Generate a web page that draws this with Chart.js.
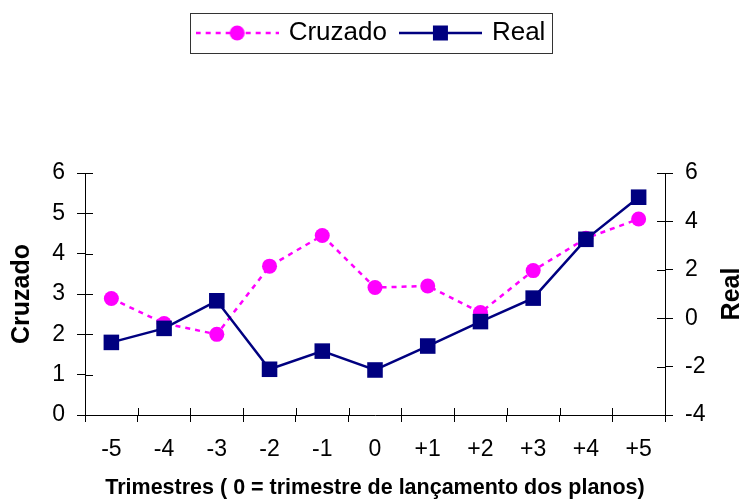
<!DOCTYPE html>
<html>
<head>
<meta charset="utf-8">
<script src="https://cdn.jsdelivr.net/npm/chart.js@4"></script>
<style>
  body { margin: 0; background: #fff; }
  #wrap { width: 744px; height: 501px; }
</style>
</head>
<body>
<div id="wrap"><canvas id="planosChart" width="744" height="501"></canvas></div>
<script>
// Trimestres (0 = trimestre de lançamento dos planos)
var trimestres = ['-5', '-4', '-3', '-2', '-1', '0', '+1', '+2', '+3', '+4', '+5'];

// Values
var cruzado = [2.89, 2.27, 2.0, 3.69, 4.45, 3.16, 3.2, 2.54, 3.58, 4.38, 4.86];
var real = [-1.0, -0.42, 0.72, -2.11, -1.36, -2.14, -1.15, -0.14, 0.83, 3.26, 5.0];

var MAGENTA = '#ff00ff';
var NAVY = '#000080';
var FONT = '"Liberation Sans", Arial, sans-serif';

// little legend icons: line with marker in the middle
function legendIcon(color, dashed, square) {
    var c = document.createElement('canvas');
    c.width = 83; c.height = 20;
    var g = c.getContext('2d');
    g.strokeStyle = color;
    g.lineWidth = 2.5;
    if (dashed) g.setLineDash([5, 5]);
    g.beginPath(); g.moveTo(0, 10); g.lineTo(83, 10); g.stroke();
    g.fillStyle = color;
    if (square) {
        g.fillRect(41.5 - 7.5, 2.5, 15, 15);
    } else {
        g.beginPath(); g.arc(41.5, 10, 7.5, 0, Math.PI * 2); g.fill();
    }
    return c;
}
var icons = [legendIcon(MAGENTA, true, false), legendIcon(NAVY, false, true)];

// forces the legend to take the space above the plot, and boxes it
var legendPlugin = {
    id: 'legendBox',
    beforeInit: function (chart) {
        var fit = chart.legend.fit;
        chart.legend.fit = function () {
            fit.call(this);
            this.height = 168;
        };
    },
    afterDraw: function (chart) {
        var boxes = chart.legend.legendHitBoxes;
        if (!boxes || !boxes.length) return;
        var first = boxes[0], last = boxes[boxes.length - 1];
        var cy = 33;
        var ctx = chart.ctx;
        ctx.save();
        ctx.strokeStyle = '#333';
        ctx.lineWidth = 1;
        ctx.strokeRect(Math.round(first.left - 9) + 0.5, Math.round(cy - 20) + 0.5,
            Math.round(last.left + last.width - first.left + 15), 40);
        ctx.restore();
    }
};

// tick marks crossing the axes (inner halves) + right axis title read bottom-up
var innerTicks = {
    id: 'innerTicks',
    beforeDatasetsDraw: function (chart) {
        var ctx = chart.ctx;
        var xs = chart.scales.x, yl = chart.scales.y, yr = chart.scales.y1;
        ctx.save();
        ctx.strokeStyle = '#000';
        ctx.lineWidth = 1;
        ctx.beginPath();
        yl.ticks.forEach(function (t, i) {
            var y = Math.round(yl.getPixelForTick(i)) + 0.5;
            ctx.moveTo(yl.right, y); ctx.lineTo(yl.right + 8, y);
        });
        yr.ticks.forEach(function (t, i) {
            var y = Math.round(yr.getPixelForTick(i)) + 0.5;
            ctx.moveTo(yr.left - 8, y); ctx.lineTo(yr.left, y);
        });
        for (var i = 0; i <= trimestres.length; i++) {
            var x = Math.round(xs.getPixelForValue(i - 0.5)) + 0.5;
            ctx.moveTo(x, xs.top - 7); ctx.lineTo(x, xs.top);
        }
        ctx.stroke();

        var area = chart.chartArea;
        ctx.translate(732, (area.top + area.bottom) / 2);
        ctx.rotate(-Math.PI / 2);
        ctx.fillStyle = '#000';
        ctx.font = 'bold 25px ' + FONT;
        ctx.textAlign = 'center';
        ctx.textBaseline = 'middle';
        ctx.fillText('Real', 0, 0);
        ctx.restore();
    }
};

Chart.defaults.font.family = FONT;
Chart.defaults.color = '#000';

var ctx = document.getElementById('planosChart');

var planosChart = new Chart(ctx, {
    type: 'line',
    data: {
        labels: trimestres,
        datasets: [
            {
                label: 'Cruzado',
                data: cruzado,
                yAxisID: 'y',
                borderColor: MAGENTA,
                backgroundColor: MAGENTA,
                borderWidth: 2.5,
                borderDash: [5, 5],
                pointStyle: 'circle',
                pointRadius: 7.5,
                pointHoverRadius: 7.5,
                pointBorderWidth: 0,
                fill: false,
                tension: 0,
                order: 2
            },
            {
                label: 'Real',
                data: real,
                yAxisID: 'y1',
                borderColor: NAVY,
                backgroundColor: NAVY,
                borderWidth: 2.5,
                pointStyle: 'rect',
                pointRadius: 11,
                pointHoverRadius: 11,
                pointBorderWidth: 0,
                fill: false,
                tension: 0,
                order: 1
            }
        ]
    },
    options: {
        responsive: false,
        animation: false,
        layout: { padding: { top: 5, left: 0, right: 0, bottom: 0 } },
        plugins: {
            tooltip: { enabled: false },
            legend: {
                position: 'top',
                labels: {
                    usePointStyle: true,
                    pointStyleWidth: 77,
                    padding: 15,
                    font: { size: 26 },
                    color: '#000',
                    sort: function (a, b) { return a.datasetIndex - b.datasetIndex; },
                    generateLabels: function (chart) {
                        var items = Chart.defaults.plugins.legend.labels.generateLabels(chart);
                        items.forEach(function (it) { it.pointStyle = icons[it.datasetIndex]; });
                        return items;
                    }
                }
            }
        },
        scales: {
            x: {
                type: 'category',
                offset: true,
                afterFit: function (s) { s.height = 86; },
                border: { display: true, color: '#000', width: 1 },
                grid: { offset: true, drawOnChartArea: false, drawTicks: true, tickLength: 7, color: '#000' },
                ticks: { font: { size: 23 }, padding: 14, maxRotation: 0 },
                title: {
                    display: true,
                    text: 'Trimestres ( 0 = trimestre de lançamento dos planos)',
                    font: { size: 21.5, weight: 'bold' },
                    padding: 0
                }
            },
            y: {
                position: 'left',
                min: 0,
                max: 6,
                afterFit: function (s) { s.width = 85; },
                border: { display: true, color: '#000', width: 1 },
                grid: { drawOnChartArea: false, drawTicks: true, tickLength: 8, color: '#000' },
                ticks: { stepSize: 1, font: { size: 23 }, padding: 12 },
                title: {
                    display: true,
                    text: 'Cruzado',
                    font: { size: 25, weight: 'bold', lineHeight: 1 },
                    padding: { top: 9.5, bottom: 0 }
                }
            },
            y1: {
                position: 'right',
                min: -4,
                max: 6,
                afterFit: function (s) { s.width = 79; },
                border: { display: true, color: '#000', width: 1 },
                grid: { drawOnChartArea: false, drawTicks: true, tickLength: 8, color: '#000' },
                ticks: { stepSize: 2, font: { size: 23 }, padding: 12 },
                title: { display: false }
            }
        }
    },
    plugins: [legendPlugin, innerTicks]
});
</script>
</body>
</html>
